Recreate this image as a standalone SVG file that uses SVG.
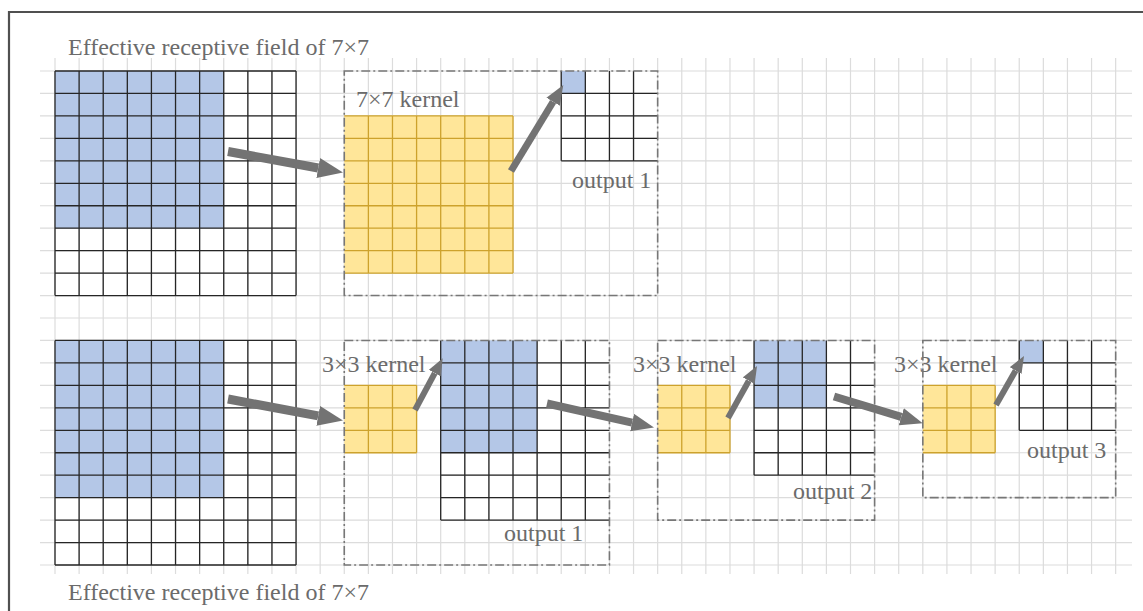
<svg xmlns="http://www.w3.org/2000/svg" xmlns:xlink="http://www.w3.org/1999/xlink" width="1143" height="611" viewBox="0 0 1143 611">
  <style>
    .bg { fill: none; stroke: #dcdcdc; stroke-width: 1.2; }
    .cells { fill: none; stroke: #262626; stroke-width: 1.3; }
    .kcells { fill: none; stroke: #cda22c; stroke-width: 1.3; }
    .blue { fill: #b4c7e7; }
    .yellow { fill: #ffe699; }
    .box { fill: none; stroke: #777777; stroke-width: 1.6; stroke-dasharray: 9 3 2 3; }
    .lbl { font-family: "Liberation Serif", "Times New Roman", serif; font-size: 24px; fill: #6b6b6b; }
    .arrow { stroke: #737373; fill: none; stroke-linecap: butt; marker-end: url(#head); }
    .frame { fill: none; stroke: #505050; stroke-width: 2.2; }
  </style>
  <defs>
    <marker id="head" viewBox="0 0 10 8" refX="0" refY="4" markerWidth="2.8" markerHeight="2.3" markerUnits="strokeWidth" orient="auto">
      <path d="M0 0L10 4L0 8Z" fill="#737373"/>
    </marker>
    <!-- 10x10 input map with the 7x7 receptive field shaded -->
    <g id="input-map">
      <rect class="blue" x="55" y="71" width="168.74" height="157.19"/>
      <path class="cells" d="M55 71V295.55M79.11 71V295.55M103.21 71V295.55M127.32 71V295.55M151.42 71V295.55M175.53 71V295.55M199.64 71V295.55M223.74 71V295.55M247.85 71V295.55M271.95 71V295.55M296.06 71V295.55M55 71H296.06M55 93.46H296.06M55 115.91H296.06M55 138.37H296.06M55 160.82H296.06M55 183.28H296.06M55 205.73H296.06M55 228.19H296.06M55 250.64H296.06M55 273.1H296.06M55 295.55H296.06"/>
    </g>
    <!-- 3x3 kernel drawn at the origin -->
    <g id="kernel3">
      <rect class="yellow" x="0" y="0" width="72.32" height="67.37"/>
      <path class="kcells" d="M24.11 0V67.37M48.21 0V67.37M72.32 0V67.37M0 0H72.32M0 22.46H72.32M0 44.91H72.32M0 67.37H72.32"/>
    </g>
  </defs>

  <rect width="1143" height="611" fill="#ffffff"/>

  <!-- background graph paper -->
  <g id="paper">
    <path class="bg" d="M55 58V574M79.11 58V574M103.21 58V574M127.32 58V574M151.42 58V574M175.53 58V574M199.64 58V574M223.74 58V574M247.85 58V574M271.95 58V574M296.06 58V574M320.17 58V574M344.27 58V574M368.38 58V574M392.48 58V574M416.59 58V574M440.7 58V574M464.8 58V574M488.91 58V574M513.01 58V574M537.12 58V574M561.23 58V574M585.33 58V574M609.44 58V574M633.54 58V574M657.65 58V574M681.76 58V574M705.86 58V574M729.97 58V574M754.07 58V574M778.18 58V574M802.29 58V574M826.39 58V574M850.5 58V574M874.6 58V574M898.71 58V574M922.82 58V574M946.92 58V574M971.03 58V574M995.13 58V574M1019.24 58V574M1043.35 58V574M1067.45 58V574M1091.56 58V574M1115.66 58V574"/>
    <path class="bg" d="M40 71H1132M40 93.46H1132M40 115.91H1132M40 138.37H1132M40 160.82H1132M40 183.28H1132M40 205.73H1132M40 228.19H1132M40 250.64H1132M40 273.1H1132M40 295.55H1132M40 318.01H1132M40 340.46H1132M40 362.92H1132M40 385.37H1132M40 407.83H1132M40 430.28H1132M40 452.74H1132M40 475.19H1132M40 497.65H1132M40 520.1H1132M40 542.56H1132M40 565.01H1132"/>
  </g>

  <path class="frame" d="M9 640V12H1160"/>

  <!-- ===== single 7x7 convolution ===== -->
  <g id="top-title">
    <text class="lbl" x="68" y="54.5">Effective receptive field of 7×7</text>
  </g>
  <g id="top-input">
    <use xlink:href="#input-map"/>
  </g>
  <g id="top-kernel">
    <rect class="yellow" x="344.27" y="115.91" width="168.74" height="157.19"/>
    <path class="kcells" d="M368.38 115.91V273.1M392.48 115.91V273.1M416.59 115.91V273.1M440.7 115.91V273.1M464.8 115.91V273.1M488.91 115.91V273.1M513.01 115.91V273.1M344.27 115.91H513.01M344.27 138.37H513.01M344.27 160.82H513.01M344.27 183.28H513.01M344.27 205.73H513.01M344.27 228.19H513.01M344.27 250.64H513.01M344.27 273.1H513.01"/>
    <text class="lbl" x="356" y="107.3">7×7 kernel</text>
  </g>
  <g id="top-output1">
    <rect class="blue" x="561.23" y="71" width="24.1" height="22.46"/>
    <path class="cells" d="M561.23 71V160.82M585.33 71V160.82M609.44 71V160.82M633.54 71V160.82M561.23 93.46H657.65M561.23 115.91H657.65M561.23 138.37H657.65M561.23 160.82H657.65"/>
    <text class="lbl" x="572" y="187.8">output 1</text>
  </g>
  <g id="top-stage">
    <rect class="box" x="344.27" y="71" width="313.38" height="224.55"/>
  </g>

  <!-- ===== three stacked 3x3 convolutions ===== -->
  <g id="bottom-input">
    <use xlink:href="#input-map" y="269.46"/>
  </g>
  <g id="bottom-title">
    <text class="lbl" x="68" y="600">Effective receptive field of 7×7</text>
  </g>

  <g id="stage1">
    <use xlink:href="#kernel3" x="344.27" y="385.37"/>
    <text class="lbl" x="322" y="372.3">3×3 kernel</text>
    <rect class="blue" x="440.7" y="340.46" width="96.42" height="112.28"/>
    <path class="cells" d="M440.7 340.46V520.1M464.8 340.46V520.1M488.91 340.46V520.1M513.01 340.46V520.1M537.12 340.46V520.1M561.23 340.46V520.1M585.33 340.46V520.1M440.7 362.92H609.44M440.7 385.37H609.44M440.7 407.83H609.44M440.7 430.28H609.44M440.7 452.74H609.44M440.7 475.19H609.44M440.7 497.65H609.44M440.7 520.1H609.44"/>
    <text class="lbl" x="504" y="541">output 1</text>
    <rect class="box" x="344.27" y="340.46" width="265.17" height="224.55"/>
  </g>

  <g id="stage2">
    <use xlink:href="#kernel3" x="657.65" y="385.37"/>
    <text class="lbl" x="633" y="372.3">3×3 kernel</text>
    <rect class="blue" x="754.07" y="340.46" width="72.32" height="67.37"/>
    <path class="cells" d="M754.07 340.46V475.19M778.18 340.46V475.19M802.29 340.46V475.19M826.39 340.46V475.19M850.5 340.46V475.19M754.07 362.92H874.6M754.07 385.37H874.6M754.07 407.83H874.6M754.07 430.28H874.6M754.07 452.74H874.6M754.07 475.19H874.6"/>
    <text class="lbl" x="793" y="498.5">output 2</text>
    <rect class="box" x="657.65" y="340.46" width="216.95" height="179.64"/>
  </g>

  <g id="stage3">
    <use xlink:href="#kernel3" x="922.82" y="385.37"/>
    <text class="lbl" x="894" y="372.3">3×3 kernel</text>
    <rect class="blue" x="1019.24" y="340.46" width="24.11" height="22.46"/>
    <path class="cells" d="M1019.24 340.46V430.28M1043.35 340.46V430.28M1067.45 340.46V430.28M1091.56 340.46V430.28M1019.24 362.92H1115.66M1019.24 385.37H1115.66M1019.24 407.83H1115.66M1019.24 430.28H1115.66"/>
    <text class="lbl" x="1027" y="457.7">output 3</text>
    <rect class="box" x="922.82" y="340.46" width="192.84" height="157.19"/>
  </g>

  <!-- connectors -->
  <g id="connectors">
    <line class="arrow" stroke-width="9" x1="228" y1="151.5" x2="318.21" y2="167.97"/>
    <line class="arrow" stroke-width="7" x1="511" y1="171" x2="553.12" y2="101.75"/>
    <line class="arrow" stroke-width="9" x1="228" y1="399" x2="318.23" y2="415.87"/>
    <line class="arrow" stroke-width="6" x1="415" y1="410" x2="434.77" y2="373.11"/>
    <line class="arrow" stroke-width="8" x1="547" y1="403.5" x2="632.14" y2="422.6"/>
    <line class="arrow" stroke-width="6" x1="728" y1="418" x2="748.82" y2="380.67"/>
    <line class="arrow" stroke-width="8" x1="834" y1="396.5" x2="901.26" y2="416.82"/>
    <line class="arrow" stroke-width="6" x1="996" y1="405" x2="1015.67" y2="370.59"/>
  </g>
</svg>
